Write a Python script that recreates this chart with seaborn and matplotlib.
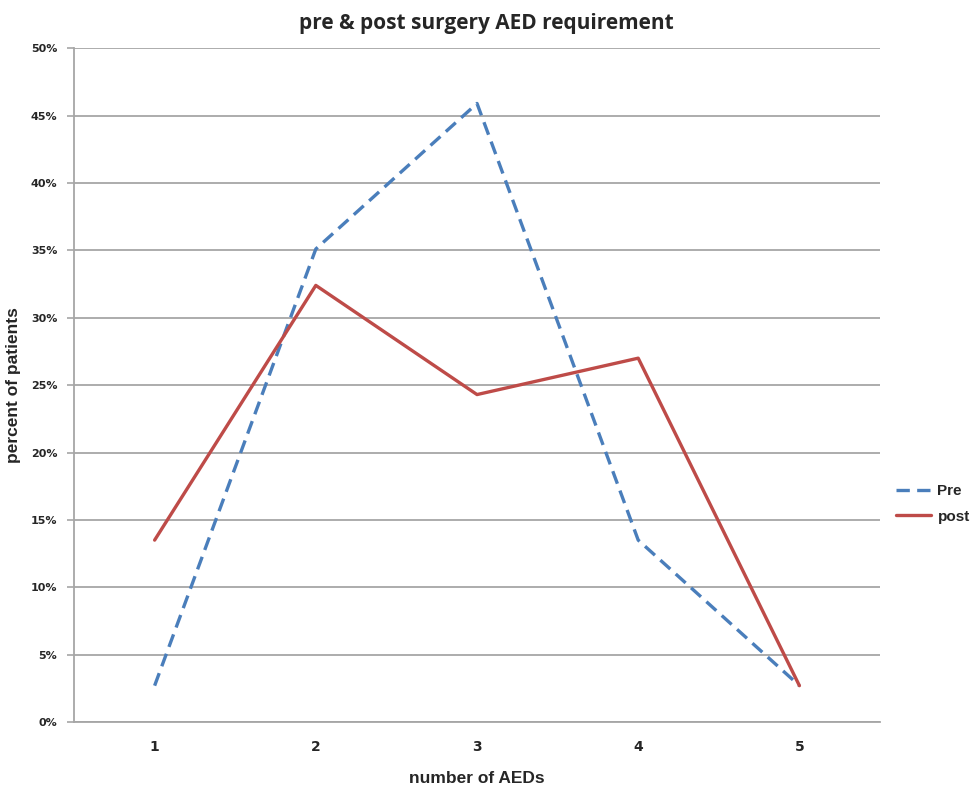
import matplotlib
matplotlib.use("Agg")
import matplotlib.pyplot as plt
import seaborn as sns
import pandas as pd
from matplotlib.ticker import FuncFormatter, FixedLocator
from matplotlib.lines import Line2D

categories = ["1", "2", "3", "4", "5"]
pre_values = [2.7, 35.1, 45.9, 13.5, 2.7]
post_values = [13.5, 32.4, 24.3, 27.0, 2.7]

df = pd.DataFrame({
    "x": list(range(1, 6)) * 2,
    "value": pre_values + post_values,
    "series": ["Pre"] * 5 + ["post"] * 5,
})

sns.set_style("white")
plt.rcParams['font.family'] = ['DejaVu Sans']

fig = plt.figure(figsize=(9.74, 7.9), dpi=100)
ax = fig.add_axes([0.076, 0.086, 0.8275, 0.853])

palette = {"Pre": "#4A7EBB", "post": "#BE4B48"}
sns.lineplot(data=df, x="x", y="value", hue="series", style="series",
             dashes={"Pre": (4, 2.2), "post": ""}, palette=palette,
             linewidth=2.4, ax=ax, legend=False)

ax.set_xlim(0.5, 5.5)
ax.set_ylim(0, 50)
ax.set_yticks(range(0, 51, 5))
ax.yaxis.set_major_formatter(FuncFormatter(lambda v, p: f"{int(v)}%"))
ax.yaxis.grid(True, color="#A6A6A6", linewidth=1.3)
ax.set_axisbelow(True)

ax.xaxis.set_major_locator(FixedLocator([0.5, 1.5, 2.5, 3.5, 4.5, 5.5]))
ax.set_xticklabels([])
ax.xaxis.set_minor_locator(FixedLocator([1, 2, 3, 4, 5]))
ax.set_xticklabels(categories, minor=True)
ax.tick_params(axis="x", which="major", length=5, color="#A6A6A6", width=1.2, direction="out")
ax.tick_params(axis="x", which="minor", length=0, pad=13, labelsize=10)
for t in ax.get_xticklabels(minor=True):
    t.set_fontweight("bold")
ax.tick_params(axis="y", length=5, color="#A6A6A6", width=1.2, labelsize=8, pad=7, direction="out", left=True)
for t in ax.get_yticklabels():
    t.set_fontweight("bold")

for s in ["top", "right"]:
    ax.spines[s].set_visible(False)
for s in ["left", "bottom"]:
    ax.spines[s].set_color("#A6A6A6")
    ax.spines[s].set_linewidth(1.3)

ax.set_xlabel("number of AEDs", fontsize=12.5, fontweight="bold", family="Liberation Sans", labelpad=12)
ax.set_ylabel("percent of patients", fontsize=12.5, fontweight="bold", family="Liberation Sans", labelpad=7)
ax.set_title("pre & post surgery AED requirement", fontsize=15, fontweight="bold", family="Open Sans", pad=14, x=0.512)

handles = [Line2D([], [], color=palette["Pre"], lw=2.4, dashes=(4, 2.2)),
           Line2D([], [], color=palette["post"], lw=2.4)]
fig.legend(handles, ["Pre", "post"], loc="center left", bbox_to_anchor=(0.906, 0.362),
           frameon=False, handlelength=2.3, handletextpad=0.4, labelspacing=0.75,
           prop={"family": "Liberation Sans", "weight": "bold", "size": 11})

fig.savefig("out.png", dpi=100, facecolor="white")
